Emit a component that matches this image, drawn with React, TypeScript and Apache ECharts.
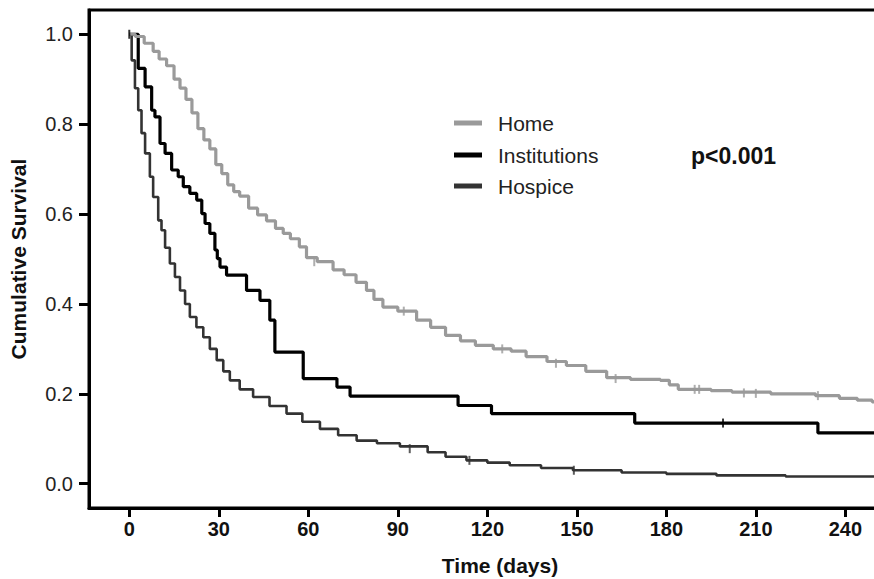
import React, { useEffect, useRef } from "react";
import * as echarts from "echarts";

const xTicks = [0, 30, 60, 90, 120, 150, 180, 210, 240];
const yTicks = [0, 0.2, 0.4, 0.6, 0.8, 1.0];

const homeCurve: [number, number][] = [
  [0, 1.0], [2, 0.995], [5, 0.98], [8, 0.962], [10, 0.945], [12.5, 0.93], [15, 0.9],
  [17, 0.88], [19, 0.855], [21, 0.825], [23, 0.79], [25, 0.765], [27, 0.745],
  [29, 0.71], [31, 0.69], [33, 0.665], [35, 0.65], [37, 0.64], [40, 0.613],
  [43, 0.598], [46, 0.585], [49, 0.568], [51.6, 0.557], [54, 0.545], [57, 0.527],
  [59.4, 0.503], [63, 0.494], [68.3, 0.476], [72, 0.465], [76, 0.448], [79.5, 0.43],
  [82, 0.41], [85, 0.393], [90, 0.384], [96.3, 0.364], [101, 0.348], [106, 0.33],
  [111, 0.318], [116, 0.308], [122, 0.3], [128, 0.295], [133, 0.283], [140, 0.272],
  [146.5, 0.263], [153, 0.25], [160, 0.236], [168, 0.232], [178, 0.23], [181, 0.22],
  [184, 0.21], [195, 0.207], [202, 0.204], [215, 0.2], [230, 0.196], [238, 0.19],
  [244, 0.186], [249, 0.182], [262, 0.178],
];

const institutionsCurve: [number, number][] = [
  [0, 1.0], [3, 0.924], [5.3, 0.883], [7.5, 0.831], [8.6, 0.816], [10.3, 0.757],
  [12, 0.735], [14.2, 0.698], [16.4, 0.683], [18.1, 0.661], [20.3, 0.646],
  [22.6, 0.631], [24.3, 0.601], [25.4, 0.579], [27, 0.557], [28.7, 0.52],
  [29.5, 0.501], [30.4, 0.482], [32.6, 0.464], [39.3, 0.43], [43.8, 0.408],
  [47.1, 0.364], [48.8, 0.293], [58.3, 0.234], [69.6, 0.215], [74, 0.195],
  [110.2, 0.174], [121.4, 0.156], [169.4, 0.135], [230.8, 0.113], [262, 0.113],
];

const hospiceCurve: [number, number][] = [
  [0, 1.0], [0.8, 0.942], [1.9, 0.88], [3, 0.831], [4.1, 0.78], [5.3, 0.735],
  [6.9, 0.683], [8, 0.638], [9.7, 0.586], [10.8, 0.564], [12, 0.525], [13.6, 0.49],
  [15.3, 0.46], [17, 0.43], [18.7, 0.4], [20.3, 0.371], [22.5, 0.348], [24.8, 0.326],
  [27, 0.3], [29.3, 0.275], [31.5, 0.25], [33.7, 0.23], [37, 0.21], [41.5, 0.193],
  [47, 0.173], [52.7, 0.156], [58, 0.138], [63.9, 0.122], [70, 0.108], [76.2, 0.096],
  [83, 0.09], [90.7, 0.083], [100, 0.07], [106, 0.06], [113, 0.052], [120, 0.047],
  [127.5, 0.041], [138, 0.035], [148.7, 0.03], [165, 0.025], [180, 0.022],
  [196.8, 0.0185], [220, 0.016], [250, 0.014], [262, 0.013],
];

const homeCensored: [number, number][] = [
  [62, 0.494], [92, 0.384], [125, 0.3], [143, 0.268], [163, 0.234], [189.5, 0.21],
  [191, 0.21], [206, 0.202], [210, 0.201], [230.8, 0.196],
];
const institutionsCensored: [number, number][] = [[0, 1.0], [199, 0.135]];
const hospiceCensored: [number, number][] = [[94, 0.078], [114, 0.052], [149, 0.03]];

const seriesNames = ["Home", "Institutions", "Hospice"];
const seriesColors = ["#9a9a9a", "#000000", "#333333"];
const pValueText = "p<0.001";

const FONT = "'Liberation Sans', Arial, Helvetica, sans-serif";

export default function App() {
  const ref = useRef<HTMLDivElement>(null);
  useEffect(() => {
    if (!ref.current) return;
    const chart = echarts.init(ref.current, null, { renderer: "svg" });
    const curves = [homeCurve, institutionsCurve, hospiceCurve];
    const censored = [homeCensored, institutionsCensored, hospiceCensored];
    const widths = [3.2, 3.2, 2.6];
    const series: any[] = [];
    curves.forEach((c, i) => {
      series.push({
        name: seriesNames[i],
        type: "line",
        step: "end",
        data: c,
        symbol: "none",
        lineStyle: { color: seriesColors[i], width: widths[i] },
        z: 5 - i,
      });
    });
    censored.forEach((c, i) => {
      series.push({
        name: seriesNames[i] + " censored",
        type: "scatter",
        data: c,
        symbol: "rect",
        symbolSize: [2, 9],
        itemStyle: { color: seriesColors[i] },
        z: 6,
      });
    });
    const legendGraphics: any[] = [];
    const legendY = [123, 155, 186];
    seriesNames.forEach((n, i) => {
      legendGraphics.push({
        type: "rect",
        shape: { x: 454, y: legendY[i] - 2.5, width: 28, height: 5 },
        style: { fill: seriesColors[i] },
      });
      legendGraphics.push({
        type: "text",
        x: 498,
        y: legendY[i],
        style: {
          text: n,
          font: `21px ${FONT}`,
          fill: "#222",
          verticalAlign: "middle",
        },
      });
    });
    legendGraphics.push({
      type: "text",
      x: 691,
      y: 156,
      style: {
        text: pValueText,
        font: `bold 23px ${FONT}`,
        fill: "#111",
        verticalAlign: "middle",
      },
    });
    chart.setOption({
      animation: false,
      backgroundColor: "#ffffff",
      grid: {
        left: 89,
        top: 10,
        width: 822,
        height: 498,
        outerBoundsMode: "none",
        containLabel: false,
        show: true,
        borderColor: "#000",
        borderWidth: 3,
        backgroundColor: "transparent",
      },
      xAxis: {
        type: "value",
        min: -13.5,
        max: 262,
        name: "Time (days)",
        nameLocation: "middle",
        nameGap: 47,
        nameTextStyle: { fontFamily: FONT, fontWeight: "bold", fontSize: 21, color: "#111" },
        axisLine: { show: true, onZero: false, lineStyle: { color: "#000", width: 3 } },
        axisTick: {
          show: true,
          length: 9,
          lineStyle: { color: "#000", width: 3 },
          customValues: xTicks,
        },
        axisLabel: {
          customValues: xTicks,
          fontFamily: FONT,
          fontWeight: "bold",
          fontSize: 20,
          color: "#111",
          margin: 11,
        },
        splitLine: { show: false },
      },
      yAxis: {
        type: "value",
        min: -0.054,
        max: 1.054,
        name: "Cumulative Survival",
        nameLocation: "middle",
        nameGap: 60,
        nameTextStyle: { fontFamily: FONT, fontWeight: "bold", fontSize: 21, color: "#111" },
        axisLine: { show: true, onZero: false, lineStyle: { color: "#000", width: 3 } },
        axisTick: {
          show: true,
          length: 10,
          lineStyle: { color: "#000", width: 3 },
          customValues: yTicks,
        },
        axisLabel: {
          customValues: yTicks,
          fontFamily: FONT,
          fontSize: 20,
          color: "#222",
          margin: 16,
          formatter: (v: number) => v.toFixed(1),
        },
        splitLine: { show: false },
      },
      series,
      graphic: legendGraphics,
    });
    return () => chart.dispose();
  }, []);
  return (
    <div
      ref={ref}
      style={{ position: "absolute", left: 0, top: 0, width: 874, height: 579, background: "#fff" }}
    />
  );
}
